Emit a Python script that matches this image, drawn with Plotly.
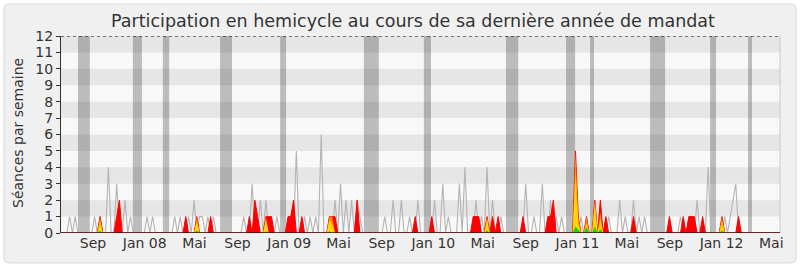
import plotly.graph_objects as go
import pandas as pd

# ---------------- data ----------------
start_week = "2007-06-04"
n_weeks = 261

# median participation (gray line): week index -> sessions
median_weeks = [3, 5, 12, 14, 17, 20, 23, 25, 31, 33, 41, 43, 46, 48, 50, 51, 53, 55,
                66, 69, 72, 74, 76, 78, 85, 88, 90, 92, 94, 97, 99, 101, 103, 105, 107, 108,
                117, 120, 123, 126, 129, 135, 138, 140, 144, 146, 150, 152, 154, 156, 159,
                168, 171, 174, 177, 179, 181, 188, 198, 202, 204, 207, 209, 211,
                224, 230, 234, 240, 242, 243, 244]
median_vals = [1, 1, 1, 1, 4, 3, 2, 1, 1, 1, 1, 1, 1, 2, 1, 1, 1, 1,
               1, 3, 2, 2, 1, 1, 5, 1, 1, 1, 6, 1, 2, 3, 2, 2, 2, 1,
               1, 2, 2, 1, 2, 2, 3, 1, 3, 4, 2, 1, 4, 2, 1,
               3, 1, 3, 2, 1, 1, 1, 1, 2, 1, 2, 1, 1,
               1, 2, 4, 1, 1, 2, 3]

# deputy presence (red)
presence_weeks = [14, 20, 21, 45, 49, 54, 68, 70, 71, 74, 75, 76, 82, 83, 84, 87, 97, 98, 99,
                  107, 128, 134, 149, 150, 151, 154, 156, 158, 167, 176, 177, 178, 186, 187,
                  190, 193, 195, 197, 207, 220, 225, 227, 228, 229, 232, 239, 245]
presence_vals = [1, 1, 2, 1, 1, 1, 1, 2, 1, 1, 1, 1, 1, 1, 2, 1, 1, 1, 1,
                 2, 1, 1, 1, 1, 1, 1, 1, 1, 1, 1, 1, 2, 5, 1,
                 1, 2, 2, 1, 1, 1, 1, 1, 1, 1, 1, 1, 1]

# interventions (orange)
orange_weeks = [14, 49, 74, 97, 98, 154, 186, 187, 190, 193, 195, 239]
orange_vals = [1, 1, 1, 1, 1, 1, 4.9, 1, 1, 2, 1.3, 1]

# short interventions (yellow)
yellow_weeks = [14, 49, 74, 97, 98, 154, 186, 187, 190, 193, 195, 239]
yellow_vals = [0.7, 0.7, 0.8, 0.8, 0.5, 0.8, 3.8, 0.6, 0.6, 1.8, 0.9, 0.7]

# questions (green)
green_weeks = [14, 49, 74, 97, 154, 186, 187, 190, 193, 195, 239]
green_vals = [0.12, 0.15, 0.1, 0.1, 0.15, 0.4, 0.2, 0.35, 0.4, 0.25, 0.15]

# parliamentary holidays (vertical gray bands)
vacation_start = ["2007-07-16", "2007-12-02", "2008-02-16", "2008-07-10", "2008-12-09",
                  "2009-07-09", "2009-12-08", "2010-07-04", "2010-12-03", "2011-02-02",
                  "2011-07-04", "2011-12-03", "2012-03-08"]
vacation_end = ["2007-08-15", "2007-12-25", "2008-03-03", "2008-08-09", "2008-12-24",
                "2009-08-16", "2009-12-26", "2010-08-04", "2010-12-26", "2011-02-12",
                "2011-08-11", "2011-12-18", "2012-03-18"]

tick_dates = ["2007-08-23", "2008-01-01", "2008-05-06", "2008-08-23", "2009-01-01",
              "2009-05-06", "2009-08-23", "2010-01-01", "2010-05-06", "2010-08-23",
              "2011-01-01", "2011-05-06", "2011-08-23", "2012-01-01", "2012-05-06"]
tick_labels = ["Sep", "Jan 08", "Mai", "Sep", "Jan 09", "Mai", "Sep", "Jan 10", "Mai",
               "Sep", "Jan 11", "Mai", "Sep", "Jan 12", "Mai"]

x_range = ["2007-06-03", "2012-05-28"]

# ---------------- build ----------------
weeks = pd.date_range(start_week, periods=n_weeks, freq="7D")


def weekly(idx, vals):
    s = [0.0] * n_weeks
    for i, v in zip(idx, vals):
        s[i] = v
    return s


FONT = "DejaVu Sans"
fig = go.Figure()

fig.add_trace(go.Scatter(x=weeks, y=weekly(median_weeks, median_vals), mode="lines",
                         line=dict(color="#b4b4b4", width=1.1), hoverinfo="skip"))
for idx, vals, col, lw in [(presence_weeks, presence_vals, "#ff0000", 1),
                           (orange_weeks, orange_vals, "#ff8c00", 0),
                           (yellow_weeks, yellow_vals, "#ffd800", 0),
                           (green_weeks, green_vals, "#00dd00", 0)]:
    fig.add_trace(go.Scatter(x=weeks, y=weekly(idx, vals), mode="lines", fill="tozeroy",
                             fillcolor=col, line=dict(color=col, width=lw), hoverinfo="skip"))

shapes = []
# outer rounded frame
W, H = 719.0, 197.0
def px(x):
    return (x - 61) / W
def py(y):
    return (233 - y) / H
x0, x1, y0, y1 = px(4), px(796), py(263), py(4)
rx, ry = 5 / W, 5 / H
path = (f"M {x0+rx},{y1} L {x1-rx},{y1} Q {x1},{y1} {x1},{y1-ry} L {x1},{y0+ry} "
        f"Q {x1},{y0} {x1-rx},{y0} L {x0+rx},{y0} Q {x0},{y0} {x0},{y0+ry} "
        f"L {x0},{y1-ry} Q {x0},{y1} {x0+rx},{y1} Z")
shapes.append(dict(type="path", path=path, xref="paper", yref="paper",
                   fillcolor="#f0f0f0", line=dict(color="#d8d8d8", width=1), layer="below"))
# plot background + stripes
shapes.append(dict(type="rect", xref="paper", yref="y", x0=0, x1=1, y0=0, y1=12,
                   fillcolor="#f8f8f8", line=dict(width=0), layer="below"))
for k in [1, 3, 5, 7, 9, 11]:
    shapes.append(dict(type="rect", xref="paper", yref="y", x0=0, x1=1, y0=k, y1=k + 1,
                       fillcolor="#e6e6e6", line=dict(width=0), layer="below"))
for s, e in zip(vacation_start, vacation_end):
    shapes.append(dict(type="rect", xref="x", yref="paper", x0=s, x1=e, y0=0, y1=1,
                       fillcolor="rgba(0,0,0,0.24)", line=dict(width=0), layer="below"))
# top dotted line, right border, baseline
shapes.append(dict(type="line", xref="paper", yref="y", x0=0, x1=1, y0=12, y1=12,
                   line=dict(color="#000000", width=1, dash="dot"), layer="above"))
shapes.append(dict(type="line", xref="paper", yref="paper", x0=1, x1=1, y0=0, y1=1,
                   line=dict(color="#c8c8c8", width=1), layer="above"))
shapes.append(dict(type="line", xref="paper", yref="y", x0=0, x1=1, y0=0, y1=0,
                   line=dict(color="#3a1010", width=1.5), layer="above"))

fig.update_layout(
    width=800, height=267,
    margin=dict(l=61, r=20, t=36, b=34),
    paper_bgcolor="#ffffff",
    plot_bgcolor="rgba(0,0,0,0)",
    showlegend=False,
    shapes=shapes,
    font=dict(family=FONT, color="#333333", size=14),
    title=dict(text="Participation en hemicycle au cours de sa dernière année de mandat",
               x=413 / 800, xanchor="center", y=1 - 21 / 267, yanchor="middle",
               font=dict(family=FONT, size=17.5, color="#333333")),
    annotations=[dict(text="Séances par semaine", xref="paper", yref="paper",
                      x=px(18), y=py(133), textangle=-90, showarrow=False,
                      xanchor="center", yanchor="middle",
                      font=dict(family=FONT, size=14, color="#333333"))],
)
fig.update_xaxes(type="date", range=x_range, tickvals=tick_dates, ticktext=tick_labels,
                 ticks="", showgrid=False, zeroline=False, showline=False,
                 tickfont=dict(family=FONT, size=14, color="#333333"))
fig.update_yaxes(range=[0, 12], tickvals=list(range(13)), ticks="outside", ticklen=4,
                 tickcolor="#333333", showgrid=False, zeroline=False, showline=True,
                 linecolor="#333333", linewidth=1,
                 tickfont=dict(family=FONT, size=14, color="#333333"))

fig.write_html("out.html")
